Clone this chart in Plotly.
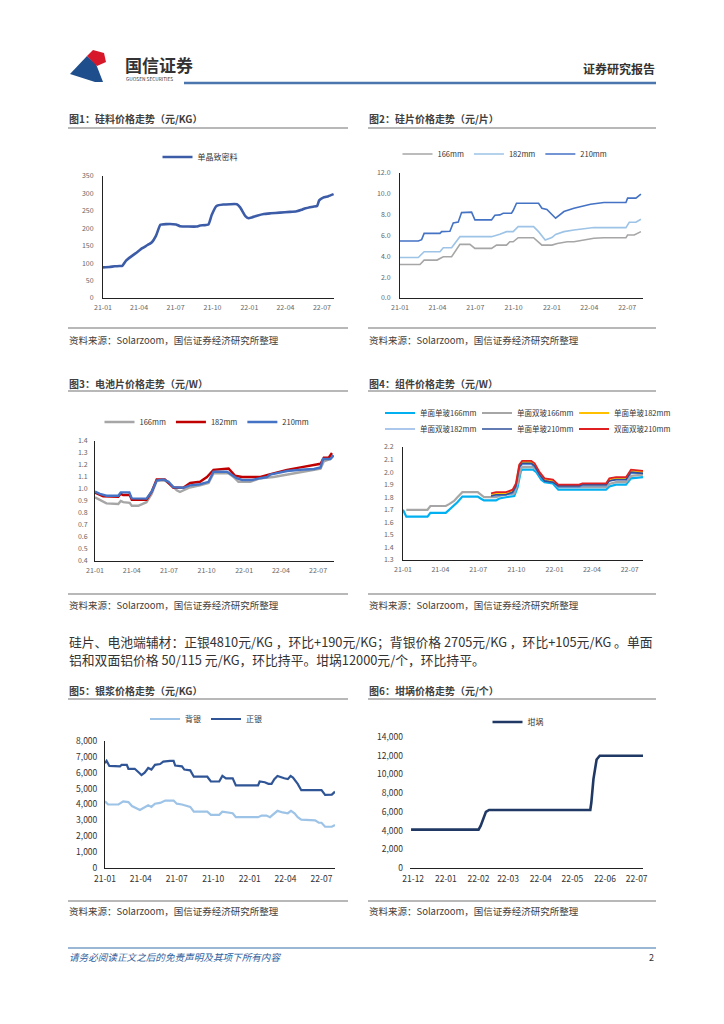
import plotly.graph_objects as go

PAGE_W, PAGE_H = 724, 1024
OFF = 8  # default body margin of the html page
W, H = PAGE_W - OFF, PAGE_H - OFF
FONT = "Noto Sans CJK SC"

def px(x):
    return (x - OFF) / W

def py(y):
    return 1 - (y - OFF) / H

# ---------------- Chart 1: 硅料价格走势 ----------------
c1_name = "单晶致密料"
c1_dates = ["2021-01-01", "2021-01-17", "2021-01-30", "2021-02-11", "2021-02-18", "2021-02-28",
            "2021-03-11", "2021-03-23", "2021-04-09", "2021-04-22", "2021-05-03", "2021-05-13",
            "2021-05-24", "2021-06-07", "2021-07-02", "2021-07-12", "2021-08-22", "2021-08-31",
            "2021-09-21", "2021-09-29", "2021-10-11", "2021-10-28", "2021-12-01", "2021-12-09",
            "2021-12-22", "2021-12-30", "2022-01-07", "2022-01-20", "2022-02-06", "2022-02-23",
            "2022-03-18", "2022-04-12", "2022-04-29", "2022-05-11", "2022-05-19", "2022-06-09",
            "2022-06-19", "2022-06-24", "2022-07-04", "2022-07-17", "2022-07-30"]
c1_vals = [88, 89, 91, 92, 92, 108, 118, 128, 143, 152, 160, 178, 210, 212, 211, 206, 205, 208,
           211, 238, 264, 268, 269, 260, 235, 229, 231, 236, 241, 243, 245, 247, 249, 253, 257,
           262, 264, 280, 288, 292, 298]

# ---------------- Chart 2: 硅片价格走势 ----------------
c2_names = ["166mm", "182mm", "210mm"]
c2_166_dates = ["2021-01-01", "2021-02-18", "2021-02-28", "2021-03-31", "2021-04-15", "2021-05-05",
                "2021-05-25", "2021-06-18", "2021-06-30", "2021-08-09", "2021-08-21", "2021-09-14",
                "2021-09-22", "2021-09-30", "2021-10-12", "2021-11-18", "2021-12-08", "2022-01-01",
                "2022-01-14", "2022-02-07", "2022-02-23", "2022-03-19", "2022-04-12", "2022-05-06",
                "2022-06-28", "2022-07-02", "2022-07-18", "2022-08-03"]
c2_166_vals = [3.22, 3.22, 3.64, 3.64, 3.96, 3.96, 5.15, 5.15, 4.76, 4.76, 5.08, 5.08, 5.40, 5.40,
               5.79, 5.79, 5.08, 5.08, 5.24, 5.40, 5.40, 5.56, 5.73, 5.79, 5.79, 6.05, 6.05, 6.37]
c2_182_dates = ["2021-01-01", "2021-02-14", "2021-02-28", "2021-04-07", "2021-04-15", "2021-05-05",
                "2021-05-25", "2021-08-09", "2021-08-29", "2021-09-14", "2021-09-30", "2021-10-12",
                "2021-11-18", "2021-11-30", "2021-12-16", "2022-01-01", "2022-01-10", "2022-01-30",
                "2022-02-23", "2022-03-19", "2022-04-12", "2022-06-28", "2022-07-06", "2022-07-22",
                "2022-08-03"]
c2_182_vals = [3.89, 3.89, 4.44, 4.44, 4.83, 4.83, 5.89, 5.89, 6.11, 6.37, 6.37, 6.85, 6.85, 6.37,
               5.57, 5.80, 6.10, 6.37, 6.53, 6.63, 6.76, 6.76, 7.27, 7.27, 7.56]
c2_210_dates = ["2021-01-01", "2021-02-14", "2021-02-22", "2021-02-28", "2021-04-07", "2021-04-11",
                "2021-05-01", "2021-05-09", "2021-05-21", "2021-05-29", "2021-06-22", "2021-06-30",
                "2021-08-09", "2021-08-17", "2021-08-29", "2021-09-06", "2021-09-26", "2021-09-30",
                "2021-10-08", "2021-11-30", "2021-12-08", "2021-12-20", "2022-01-10", "2022-01-30",
                "2022-02-23", "2022-03-19", "2022-04-04", "2022-05-06", "2022-06-28", "2022-07-02",
                "2022-07-22", "2022-08-03"]
c2_210_vals = [5.47, 5.47, 5.60, 6.20, 6.20, 6.37, 6.40, 7.20, 7.30, 8.20, 8.24, 7.50, 7.50, 7.95,
               7.98, 8.14, 8.14, 8.40, 9.10, 9.10, 8.62, 8.50, 7.66, 8.30, 8.62, 8.85, 9.00, 9.17,
               9.17, 9.59, 9.59, 9.97]

# ---------------- Chart 3: 电池片价格走势 ----------------
c3_names = ["166mm", "182mm", "210mm"]
c3_166_dates = ["2021-01-01", "2021-01-29", "2021-02-27", "2021-03-05", "2021-03-11", "2021-03-27",
                "2021-04-01", "2021-04-17", "2021-05-07", "2021-05-20", "2021-06-01", "2021-06-21",
                "2021-07-08", "2021-07-20", "2021-07-28", "2021-08-18", "2021-09-15", "2021-10-06",
                "2021-10-18", "2021-11-24", "2021-12-06", "2021-12-18", "2022-01-16", "2022-02-10",
                "2022-03-14", "2022-04-16", "2022-05-19", "2022-06-21", "2022-07-07", "2022-07-15",
                "2022-07-31", "2022-08-08"]
c3_166_vals = [0.93, 0.88, 0.875, 0.90, 0.89, 0.885, 0.86, 0.86, 0.89, 0.96, 1.07, 1.07, 1.03, 0.99,
               0.975, 1.01, 1.03, 1.05, 1.13, 1.13, 1.10, 1.06, 1.06, 1.09, 1.10, 1.12, 1.14, 1.16,
               1.17, 1.23, 1.25, 1.28]
c3_182_dates = ["2021-01-01", "2021-01-21", "2021-02-27", "2021-03-05", "2021-03-11", "2021-03-27",
                "2021-04-01", "2021-05-07", "2021-05-20", "2021-06-01", "2021-06-21", "2021-07-12",
                "2021-08-05", "2021-08-22", "2021-09-15", "2021-10-02", "2021-10-18", "2021-11-24",
                "2021-12-10", "2021-12-27", "2022-01-20", "2022-02-10", "2022-03-02", "2022-03-22",
                "2022-04-16", "2022-05-19", "2022-06-21", "2022-07-07", "2022-07-15", "2022-07-27",
                "2022-08-04"]
c3_182_vals = [0.97, 0.94, 0.935, 0.96, 0.95, 0.95, 0.91, 0.91, 0.98, 1.08, 1.08, 1.01, 1.01, 1.05,
               1.06, 1.10, 1.16, 1.17, 1.11, 1.10, 1.10, 1.10, 1.12, 1.14, 1.16, 1.18, 1.20, 1.21,
               1.26, 1.26, 1.30]
c3_210_dates = ["2021-01-01", "2021-01-13", "2021-01-29", "2021-02-27", "2021-03-05", "2021-03-26",
                "2021-04-01", "2021-05-07", "2021-05-20", "2021-06-01", "2021-06-17", "2021-06-30",
                "2021-07-12", "2021-08-05", "2021-08-22", "2021-09-15", "2021-10-06", "2021-10-18",
                "2021-11-20", "2021-12-02", "2021-12-14", "2021-12-27", "2022-01-20", "2022-02-10",
                "2022-02-26", "2022-03-06", "2022-03-22", "2022-04-16", "2022-05-19", "2022-06-21",
                "2022-07-07", "2022-07-13", "2022-07-23", "2022-07-31", "2022-08-08"]
c3_210_vals = [0.978, 0.96, 0.944, 0.944, 0.972, 0.972, 0.922, 0.92, 0.98, 1.07, 1.08, 1.06, 1.014,
               1.01, 1.03, 1.04, 1.06, 1.144, 1.144, 1.12, 1.09, 1.075, 1.075, 1.09, 1.10, 1.12,
               1.13, 1.15, 1.16, 1.167, 1.18, 1.25, 1.25, 1.25, 1.28]

# ---------------- Chart 4: 组件价格走势 ----------------
c4_names = ["单面单玻166mm", "单面双玻166mm", "单面单玻182mm",
            "单面双玻182mm", "单面单玻210mm", "双面双玻210mm"]
c4_a_dates = ["2021-01-01", "2021-01-09", "2021-03-01", "2021-03-08", "2021-04-14", "2021-04-22",
              "2021-05-04", "2021-05-12", "2021-05-24", "2021-06-30", "2021-07-07", "2021-07-15",
              "2021-08-13", "2021-08-21", "2021-09-06", "2021-09-26", "2021-10-04", "2021-10-12",
              "2021-10-16", "2021-11-10", "2021-11-18", "2021-11-30", "2021-12-08", "2021-12-28",
              "2022-01-10", "2022-05-05", "2022-05-13", "2022-05-29", "2022-06-22", "2022-07-04",
              "2022-08-02"]
c4_ss166 = [1.70, 1.645, 1.645, 1.675, 1.675, 1.70, 1.73, 1.76, 1.805, 1.805, 1.79, 1.775, 1.775,
            1.79, 1.80, 1.81, 1.88, 2.01, 2.02, 2.02, 2.00, 1.94, 1.92, 1.91, 1.86, 1.86, 1.885,
            1.90, 1.90, 1.95, 1.96]
c4_sd166 = [None, 1.70, 1.70, 1.73, 1.73, 1.745, 1.77, 1.80, 1.84, 1.84, 1.82, 1.80, 1.80, 1.81,
            1.82, 1.83, 1.91, 2.03, 2.04, 2.04, 2.02, 1.96, 1.945, 1.935, 1.88, 1.88, 1.905, 1.92,
            1.92, 1.97, 1.98]
c4_b_dates = ["2021-08-01", "2021-08-13", "2021-09-06", "2021-09-22", "2021-09-30", "2021-10-08",
              "2021-10-15", "2021-11-06", "2021-11-14", "2021-11-26", "2021-12-08", "2021-12-28",
              "2022-01-10", "2022-03-01", "2022-03-09", "2022-05-05", "2022-05-13", "2022-05-29",
              "2022-06-22", "2022-07-04", "2022-08-02"]
c4_ss182 = [1.82, 1.83, 1.83, 1.85, 1.90, 2.05, 2.08, 2.08, 2.06, 1.99, 1.94, 1.93, 1.89, 1.89,
            1.90, 1.90, 1.94, 1.95, 1.95, 2.01, 2.00]
c4_sd182 = [1.81, 1.81, 1.82, 1.83, 1.88, 2.03, 2.06, 2.06, 2.04, 1.97, 1.93, 1.92, 1.88, 1.88,
            1.89, 1.89, 1.93, 1.94, 1.94, 1.99, 1.99]
c4_ss210 = [1.81, 1.82, 1.82, 1.84, 1.89, 2.04, 2.07, 2.07, 2.05, 1.98, 1.93, 1.92, 1.89, 1.89,
            1.90, 1.90, 1.93, 1.94, 1.94, 2.00, 1.99]
c4_dd210 = [1.83, 1.84, 1.84, 1.86, 1.91, 2.06, 2.09, 2.09, 2.07, 2.00, 1.95, 1.94, 1.90, 1.90,
            1.91, 1.91, 1.95, 1.96, 1.96, 2.02, 2.01]

# ---------------- Chart 5: 银浆价格走势 ----------------
c5_names = ["背银", "正银"]
c5_zy_dates = ["2021-01-01", "2021-01-05", "2021-01-12", "2021-02-08", "2021-02-12", "2021-02-25",
               "2021-03-01", "2021-03-17", "2021-03-30", "2021-04-03", "2021-04-11", "2021-04-20",
               "2021-04-28", "2021-05-07", "2021-05-20", "2021-05-28", "2021-06-14", "2021-06-23",
               "2021-06-27", "2021-07-14", "2021-07-20", "2021-08-04", "2021-08-13", "2021-09-16",
               "2021-09-25", "2021-10-16", "2021-10-24", "2021-11-02", "2021-11-19", "2021-11-27",
               "2022-01-22", "2022-01-26", "2022-02-08", "2022-02-17", "2022-02-25", "2022-03-04",
               "2022-03-12", "2022-03-21", "2022-03-29", "2022-04-07", "2022-04-14", "2022-04-20",
               "2022-05-02", "2022-05-11", "2022-07-01", "2022-07-10", "2022-07-27", "2022-08-04"]
c5_zy_vals = [6600, 6750, 6430, 6400, 6500, 6500, 6250, 6250, 5950, 5850, 6000, 6300, 6200, 6500,
              6550, 6700, 6750, 6750, 6450, 6400, 6200, 6150, 5750, 5750, 5450, 5450, 5800, 5650,
              5650, 5200, 5200, 5450, 5400, 5300, 5300, 5600, 5800, 5700, 5650, 5600, 5800, 5700,
              5300, 4900, 4900, 4600, 4620, 4810]
c5_by_dates = ["2021-01-01", "2021-01-09", "2021-02-04", "2021-02-16", "2021-03-01", "2021-03-10",
               "2021-03-30", "2021-04-11", "2021-04-20", "2021-04-28", "2021-05-07", "2021-05-20",
               "2021-06-02", "2021-06-23", "2021-07-01", "2021-07-14", "2021-07-27", "2021-08-04",
               "2021-08-13", "2021-09-16", "2021-09-25", "2021-10-16", "2021-10-24", "2021-11-06",
               "2021-11-19", "2021-11-27", "2022-01-22", "2022-01-31", "2022-02-12", "2022-02-21",
               "2022-03-04", "2022-03-12", "2022-03-25", "2022-04-07", "2022-04-15", "2022-04-24",
               "2022-05-02", "2022-05-11", "2022-06-15", "2022-06-24", "2022-07-01", "2022-07-10",
               "2022-07-27", "2022-08-04"]
c5_by_vals = [4200, 4000, 4000, 4200, 4150, 3900, 3650, 3800, 3950, 3850, 4050, 4100, 4250, 4250,
              4050, 4000, 3900, 3850, 3550, 3550, 3350, 3350, 3550, 3500, 3450, 3200, 3200, 3300,
              3300, 3200, 3400, 3600, 3500, 3450, 3600, 3450, 3200, 3050, 3000, 2850, 2850, 2600,
              2600, 2705]

# ---------------- Chart 6: 坩埚价格走势 ----------------
c6_name = "坩埚"
c6_dates = ["2021-11-29", "2022-02-01", "2022-02-03", "2022-02-06", "2022-02-08", "2022-02-11",
            "2022-05-18", "2022-05-19", "2022-05-21", "2022-05-24", "2022-05-27", "2022-07-07"]
c6_vals = [4100, 4100, 4500, 5400, 6000, 6200, 6200, 7000, 9500, 11600, 12000, 12000]

# ---------------- text ----------------
titles = ["图1：硅料价格走势（元/KG）", "图2：硅片价格走势（元/片）",
          "图3：电池片价格走势（元/W）", "图4：组件价格走势（元/W）",
          "图5：银浆价格走势（元/KG）", "图6：坩埚价格走势（元/个）"]
source_text = "资料来源：Solarzoom，国信证券经济研究所整理"
para_lines = ["硅片、电池端辅材：正银4810元/KG ，环比+190元/KG；背银价格 2705元/KG ，环比+105元/KG 。单面",
              "铝和双面铝价格 50/115 元/KG，环比持平。坩埚12000元/个，环比持平。"]

fig = go.Figure()

def add(x, y, name, color, width, axis, legend, shape="linear"):
    fig.add_trace(go.Scatter(
        x=x, y=y, name=name, mode="lines",
        line=dict(color=color, width=width, shape=shape, smoothing=0.35 if shape == "spline" else None),
        xaxis="x" + axis, yaxis="y" + axis, legend=legend, connectgaps=False,
        hoverinfo="skip"))

add(c1_dates, c1_vals, c1_name, "#3d5ca8", 2.6, "", "legend", "spline")

add(c2_166_dates, c2_166_vals, c2_names[0], "#a6a6a6", 1.6, "2", "legend2")
add(c2_182_dates, c2_182_vals, c2_names[1], "#9dc3e6", 1.6, "2", "legend2")
add(c2_210_dates, c2_210_vals, c2_names[2], "#4472c4", 1.6, "2", "legend2")

add(c3_166_dates, c3_166_vals, c3_names[0], "#a6a6a6", 2.4, "3", "legend3")
add(c3_182_dates, c3_182_vals, c3_names[1], "#c00000", 2.4, "3", "legend3")
add(c3_210_dates, c3_210_vals, c3_names[2], "#4472c4", 2.4, "3", "legend3")

add(c4_a_dates, c4_ss166, c4_names[0], "#00b0f0", 2.2, "4", "legend4")
add(c4_a_dates, c4_sd166, c4_names[1], "#a6a6a6", 2.2, "4", "legend4")
add(c4_b_dates, c4_ss182, c4_names[2], "#ffc000", 2.0, "4", "legend4")
add(c4_b_dates, c4_sd182, c4_names[3], "#5b8fd9", 1.2, "4", "legend5")
add(c4_b_dates, c4_ss210, c4_names[4], "#2f4f9a", 1.6, "4", "legend5")
add(c4_b_dates, c4_dd210, c4_names[5], "#e02020", 1.8, "4", "legend5")

add(c5_by_dates, c5_by_vals, c5_names[0], "#9dc3e6", 2.2, "5", "legend6")
add(c5_zy_dates, c5_zy_vals, c5_names[1], "#2f5597", 2.2, "5", "legend6")

add(c6_dates, c6_vals, c6_name, "#203864", 2.6, "6", "legend7")

tickfont_s = dict(family=FONT, size=7, color="#666666")
tickfont_l = dict(family=FONT, size=8.5, color="#333333")

def xax(x0, x1, rng, anchor, small=True, dtick="M3", tick0="2021-01-01"):
    return dict(domain=[px(x0), px(x1)], anchor=anchor, type="date", range=rng, dtick=dtick,
                tick0=tick0, tickformat="%y-%m", showline=True, linecolor="#222222", linewidth=1,
                showgrid=False, zeroline=False, ticks="", automargin=False,
                ticklabelstandoff=3,
                tickfont=tickfont_s if small else tickfont_l, fixedrange=True)

def yax(y0, y1, rng, dt, fmt, anchor, small=True, showline=True, standoff=4):
    return dict(domain=[py(y1), py(y0)], anchor=anchor, range=rng, dtick=dt, tick0=rng[0],
                tickformat=fmt, showline=showline, linecolor="#222222", linewidth=1,
                showgrid=False, zeroline=False, ticks="", automargin=False,
                ticklabelstandoff=standoff,
                tickfont=tickfont_s if small else tickfont_l, fixedrange=True)

def leg(x, y, anchor="center", ew=None, size=7.5):
    d = dict(x=px(x), y=py(y), xanchor=anchor, yanchor="middle", orientation="h",
             font=dict(family=FONT, size=size, color="#333333"),
             bgcolor="rgba(0,0,0,0)", borderwidth=0, tracegroupgap=0, itemwidth=30)
    if ew is not None:
        d["entrywidth"] = ew
        d["entrywidthmode"] = "pixels"
    return d

layout = dict(
    width=W, height=H, margin=dict(l=0, r=0, t=0, b=0, pad=0, autoexpand=False),
    paper_bgcolor="white", plot_bgcolor="white",
    font=dict(family=FONT, color="#333333"),
    showlegend=True,
    xaxis=xax(103, 334, ["2021-01-01", "2022-07-31"], "y"),
    yaxis=yax(176, 298, [0, 350], 50, "d", "x", standoff=7),
    xaxis2=xax(400, 643, ["2021-01-01", "2022-08-08"], "y2"),
    yaxis2=yax(173, 298, [0, 12], 2, ".1f", "x2", standoff=7),
    xaxis3=xax(95, 334, ["2021-01-01", "2022-08-09"], "y3"),
    yaxis3=yax(441, 561, [0.4, 1.4], 0.1, ".1f", "x3", standoff=5),
    xaxis4=xax(403, 643, ["2021-01-01", "2022-08-02"], "y4"),
    yaxis4=yax(447, 560, [1.3, 2.2], 0.1, ".1f", "x4", standoff=7),
    xaxis5=xax(105, 335, ["2021-01-01", "2022-08-04"], "y5", small=False),
    yaxis5=yax(741, 868, [0, 8000], 1000, ",d", "x5", small=False, standoff=5),
    xaxis6=xax(410, 643, ["2021-11-28", "2022-07-07"], "y6", small=False, dtick="M1",
               tick0="2021-12-01"),
    yaxis6=yax(737, 868, [0, 14000], 2000, ",d", "x6", small=False, showline=False, standoff=6),
    legend=leg(200, 157, size=8),
    legend2=leg(505, 154),
    legend3=leg(207, 422),
    legend4=leg(380, 413, "left", 52),
    legend5=leg(380, 429, "left", 52),
    legend6=leg(206, 719, size=8),
    legend7=leg(518, 722, size=8),
)
fig.update_layout(**layout)

shapes = []
annos = []

def text(x, y, s, size, color="#333333", anchor="left", bold=False, italic=False, family=FONT):
    if bold:
        s = "<b>" + s + "</b>"
    if italic:
        s = "<i>" + s + "</i>"
    annos.append(dict(x=px(x), y=py(y), xref="paper", yref="paper", text=s, showarrow=False,
                      xanchor=anchor, yanchor="middle", borderpad=0,
                      font=dict(family=family, size=size, color=color)))

def hline(x0, x1, y, color, width):
    shapes.append(dict(type="line", xref="paper", yref="paper", x0=px(x0), x1=px(x1),
                       y0=py(y), y1=py(y), line=dict(color=color, width=width)))

# header
shapes.append(dict(type="path", xref="paper", yref="paper",
                   path="M {} {} L {} {} L {} {} L {} {} L {} {} Z".format(
                       px(70), py(74), px(87), py(56), px(96), py(64), px(103), py(82), px(95), py(82)),
                   fillcolor="#1f4e8c", line=dict(width=0)))
shapes.append(dict(type="path", xref="paper", yref="paper",
                   path="M {} {} L {} {} L {} {} L {} {} L {} {} Z".format(
                       px(87), py(56), px(93), py(50), px(104), py(53), px(106), py(62), px(97), py(66)),
                   fillcolor="#d7182a", line=dict(width=0)))
text(124, 64, "国信证券", 17, "#333333", bold=True)
text(125, 79, "GUOSEN SECURITIES", 4.8, "#333333")
text(656, 68, "证券研究报告", 12, "#333333", anchor="right", bold=True)
hline(184, 656, 83, "#4a76ad", 2.6)

# chart titles + underlines + source lines
tpos = [(68, 118, 128, 348), (368, 118, 128, 656), (68, 383, 391, 348),
        (368, 383, 391, 656), (68, 690, 699, 348), (368, 690, 699, 656)]
for t, (x, y, uy, x1) in zip(titles, tpos):
    text(x, y, t, 10, "#404040", bold=True)
    hline(x, x1, uy, "#a0a0a0", 1.6)

spos = [(68, 328, 340, 348), (368, 328, 340, 656), (68, 594, 605, 348),
        (368, 594, 605, 656), (68, 901, 911, 348), (368, 901, 911, 656)]
for (x, ly, ty, x1) in spos:
    hline(x, x1, ly, "#a0a0a0", 1.4)
    text(x, ty, source_text, 9.5, "#404040")

# paragraph
text(68, 641, para_lines[0], 12.8, "#333333")
text(68, 659, para_lines[1], 12.8, "#333333")

# footer
hline(68, 656, 948, "#9bb7d6", 2)
text(68, 957, "请务必阅读正文之后的免责声明及其项下所有内容", 9.6, "#2f5fa0", italic=True)
text(655, 957, "2", 9, "#333333", anchor="right")

fig.update_layout(shapes=shapes, annotations=annos)
fig.write_html("out.html")
